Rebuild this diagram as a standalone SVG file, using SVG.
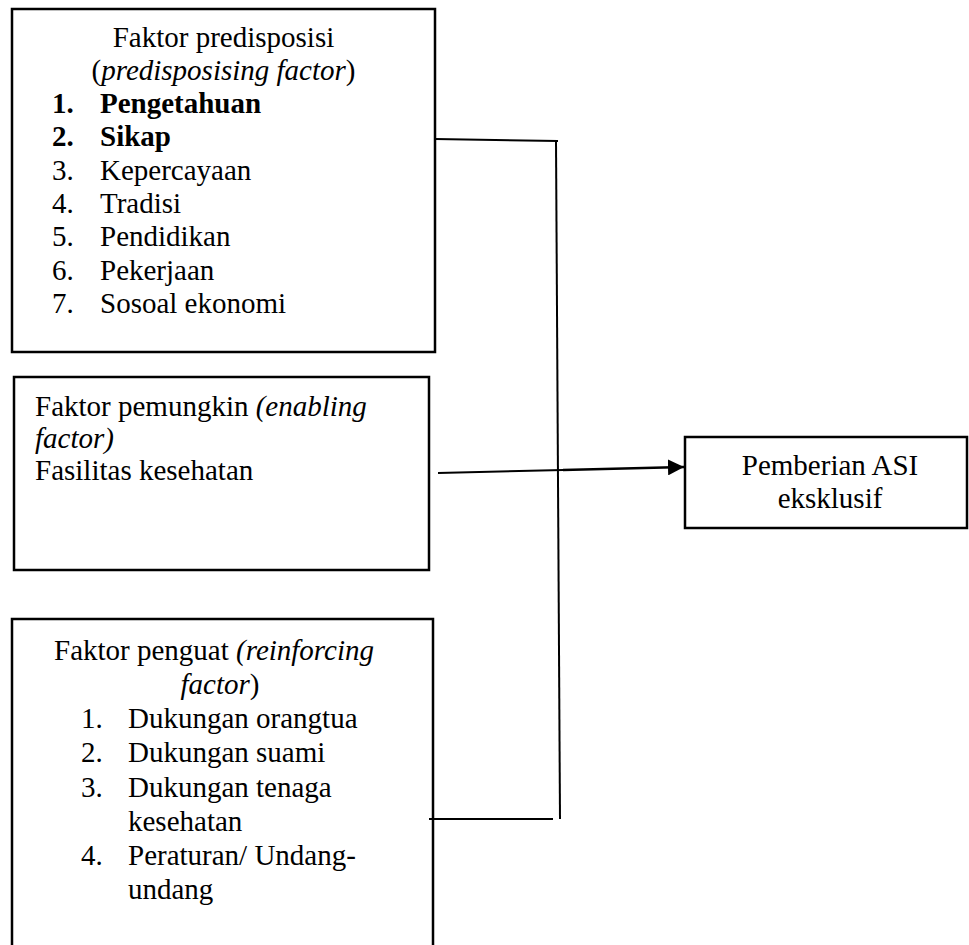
<svg xmlns="http://www.w3.org/2000/svg" width="969" height="945" viewBox="0 0 969 945">
<defs>
<style>
.box{fill:#fff;stroke:#000;stroke-width:2.5}
.ln{fill:none;stroke:#000;stroke-width:2}
text{font-family:"Liberation Serif","Times New Roman",serif;font-size:29px;fill:#000}
.i{font-style:italic}
.b{font-weight:bold}
.c{text-anchor:middle}
</style>
<marker id="ah" markerWidth="16" markerHeight="16" refX="16" refY="8" orient="auto" markerUnits="userSpaceOnUse">
<path d="M0,0 L16,8 L0,16 Z" fill="#000"/>
</marker>
</defs>
<rect width="969" height="945" fill="#fff"/>
<g id="predisposing">
<rect class="box" x="12" y="9" width="423" height="343"/>
<text class="c" x="223.5" y="47">Faktor predisposisi</text>
<text class="c" x="223.5" y="80">(<tspan class="i">predisposising factor</tspan>)</text>
<text class="b" x="52" y="113">1.</text><text class="b" x="100" y="113">Pengetahuan</text>
<text class="b" x="52" y="146">2.</text><text class="b" x="100" y="146">Sikap</text>
<text x="52" y="180">3.</text><text x="100" y="180">Kepercayaan</text>
<text x="52" y="213">4.</text><text x="100" y="213">Tradisi</text>
<text x="52" y="246">5.</text><text x="100" y="246">Pendidikan</text>
<text x="52" y="280">6.</text><text x="100" y="280">Pekerjaan</text>
<text x="52" y="313">7.</text><text x="100" y="313">Sosoal ekonomi</text>
</g>
<g id="enabling">
<rect class="box" x="14" y="377" width="415" height="193"/>
<text x="35" y="416">Faktor pemungkin <tspan class="i">(enabling</tspan></text>
<text class="i" x="35" y="448">factor)</text>
<text x="35" y="480">Fasilitas kesehatan</text>
</g>
<g id="reinforcing">
<rect class="box" x="12" y="619" width="421" height="360"/>
<text x="54" y="660">Faktor penguat <tspan class="i">(reinforcing</tspan></text>
<text class="c" x="220" y="694"><tspan class="i">factor</tspan>)</text>
<text x="81" y="728">1.</text><text x="128" y="728">Dukungan orangtua</text>
<text x="81" y="762">2.</text><text x="128" y="762">Dukungan suami</text>
<text x="81" y="797">3.</text><text x="128" y="797">Dukungan tenaga</text>
<text x="128" y="831">kesehatan</text>
<text x="81" y="865">4.</text><text x="128" y="865">Peraturan/ Undang-</text>
<text x="128" y="899">undang</text>
</g>
<g id="outcome">
<rect class="box" x="685" y="437" width="282" height="91"/>
<text class="c" x="830" y="475">Pemberian ASI</text>
<text class="c" x="830" y="508">eksklusif</text>
</g>
<g id="connectors">
<path class="ln" d="M435,139 L558,141"/>
<path class="ln" d="M556,141 L560,819"/>
<path class="ln" d="M438,473 L563,470"/>
<path class="ln" style="stroke-width:2.5" d="M563,470 L684,467" marker-end="url(#ah)"/>
<path class="ln" d="M429,819 L553,819"/>
</g>
</svg>
